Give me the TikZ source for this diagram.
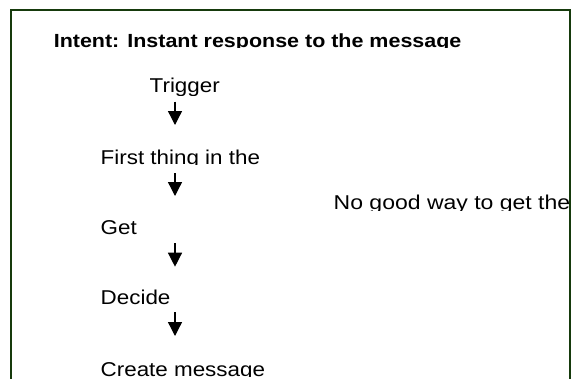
\documentclass[tikz,border=0pt]{standalone}
\usepackage{fontspec}
\setmainfont{Liberation Sans}
\usepackage{graphicx}
\usetikzlibrary{arrows.meta,calc}

\definecolor{framegreen}{RGB}{22,58,12}

\tikzset{
  plain text/.style={anchor=base west, inner sep=0pt, font=\fontsize{20}{23}\selectfont},
  title text/.style={anchor=base west, inner sep=0pt, font=\fontsize{19}{22}\selectfont\bfseries},
  flow/.style={line width=1.3pt, -{Triangle[length=14pt,width=14pt]}},
  frame line/.style={draw=framegreen, line width=2pt}
}
% text set slightly wide
\newcommand{\widetext}[2][1.12]{\scalebox{#1}[1]{#2}}

\begin{document}
\begin{tikzpicture}[x=1pt,y=-1pt]
  \useasboundingbox (0,0) rectangle (572,378);
  \clip (0,0) rectangle (572,378);
  \fill[white] (0,0) rectangle (572,378);

  % open frame, running off the bottom
  \draw[frame line] (11,400) -- (11,10) -- (570,10) -- (570,400);

  % heading
  \begin{scope}
    \clip (40,20) rectangle (520,47.6);
    \node[title text] (title) at (53.6,47.6) {\widetext[1.13]{Intent: Instant response to the message}};
  \end{scope}

  % steps, each line cut just under its baseline
  \begin{scope}
    \clip (120,60) rectangle (300,95);
    \node[plain text] (trigger) at (149.5,92.6) {\widetext{Trigger}};
  \end{scope}
  \begin{scope}
    \clip (80,130) rectangle (330,164.5);
    \node[plain text] (first) at (100.5,164.2) {\widetext{First thing in the}};
  \end{scope}
  \begin{scope}
    \clip (80,200) rectangle (330,236);
    \node[plain text] (get) at (100.5,234.3) {\widetext{Get}};
  \end{scope}
  \begin{scope}
    \clip (80,270) rectangle (330,304.5);
    \node[plain text] (decide) at (100.5,304.2) {\widetext{Decide}};
  \end{scope}
  \begin{scope}
    \clip (80,340) rectangle (330,376.4);
    \node[plain text] (create) at (100.5,376.2) {\widetext{Create message}};
  \end{scope}

  % side note, cut by the frame
  \begin{scope}
    \clip (320,180) rectangle (569,210);
    \node[plain text] (note) at (333.5,209.2) {\widetext[1.15]{No good way to get the}};
  \end{scope}

  % flow arrows
  \coordinate (axis) at (175,0);
  \draw[flow] ($(trigger.base -| axis)+(0,9.1)$) -- ($(first.base -| axis)+(0,-39.2)$);
  \draw[flow] ($(first.base -| axis)+(0,9.1)$) -- ($(get.base -| axis)+(0,-38.3)$);
  \draw[flow] ($(get.base -| axis)+(0,9.0)$) -- ($(decide.base -| axis)+(0,-37.5)$);
  \draw[flow] ($(decide.base -| axis)+(0,8.1)$) -- ($(create.base -| axis)+(0,-40.2)$);
\end{tikzpicture}
\end{document}
